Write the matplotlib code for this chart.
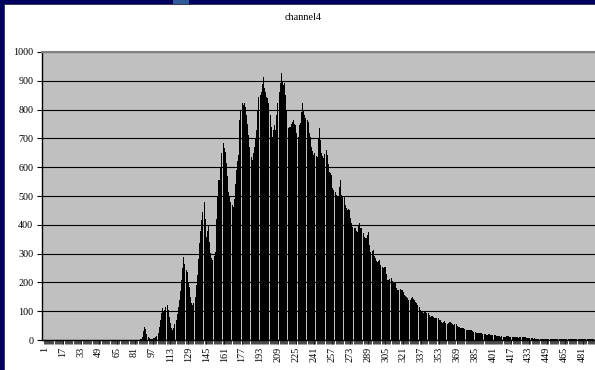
import matplotlib
matplotlib.use("Agg")
import matplotlib.pyplot as plt
from matplotlib.patches import Rectangle
from matplotlib.ticker import FixedLocator

title = "channel4"

# histogram counts for channel 4, one value per bin (bins 1..491)
counts = [
    0, 0, 0, 0, 0, 0, 0, 0, 0, 0, 0, 0, 0, 0, 0, 0,
    0, 0, 0, 0, 0, 0, 0, 0, 0, 0, 0, 0, 0, 0, 0, 0,
    0, 0, 0, 0, 0, 0, 0, 0, 0, 0, 0, 0, 0, 0, 0, 0,
    0, 0, 0, 0, 0, 0, 0, 0, 0, 0, 0, 0, 0, 0, 0, 0,
    0, 0, 0, 0, 0, 0, 0, 0, 0, 0, 0, 0, 0, 0, 0, 0,
    0, 0, 0, 0, 0, 2, 5, 12, 30, 45, 38, 20, 10, 6, 5, 4,
    5, 6, 8, 10, 14, 25, 45, 70, 95, 110, 100, 105, 115, 121, 105, 80,
    60, 40, 35, 42, 55, 70, 90, 115, 139, 170, 210, 250, 289, 265, 243, 235,
    200, 185, 150, 128, 120, 128, 150, 190, 226, 280, 336, 380, 417, 445, 480, 420,
    359, 380, 399, 340, 301, 285, 278, 290, 307, 420, 500, 555, 555, 600, 650, 683,
    665, 654, 613, 570, 515, 500, 480, 470, 463, 490, 540, 590, 620, 642, 764, 800,
    822, 815, 822, 810, 781, 750, 712, 670, 636, 625, 650, 671, 700, 729, 800, 845,
    850, 862, 890, 914, 874, 860, 845, 839, 822, 780, 741, 706, 730, 747, 729, 780,
    822, 860, 891, 926, 900, 885, 891, 850, 799, 735, 740, 741, 750, 758, 764, 750,
    747, 720, 706, 747, 752, 790, 822, 795, 781, 770, 765, 758, 720, 706, 671, 655,
    642, 648, 640, 636, 700, 735, 694, 648, 640, 631, 645, 660, 642, 610, 585, 579,
    573, 527, 520, 515, 503, 500, 498, 530, 556, 503, 500, 498, 470, 457, 451, 455,
    451, 422, 405, 393, 390, 388, 380, 376, 395, 405, 390, 388, 370, 359, 355, 353,
    365, 376, 330, 307, 310, 313, 290, 284, 275, 272, 276, 278, 262, 255, 249, 252,
    255, 230, 210, 208, 212, 214, 205, 203, 200, 203, 180, 174, 172, 176, 174, 172,
    165, 156, 152, 150, 145, 140, 139, 145, 150, 142, 139, 132, 127, 120, 116, 104,
    98, 96, 95, 97, 98, 95, 93, 86, 81, 82, 83, 79, 76, 75, 76, 75,
    70, 69, 64, 60, 63, 67, 60, 56, 60, 64, 62, 60, 55, 52, 54, 56,
    50, 46, 44, 42, 40, 41, 40, 38, 35, 36, 35, 35, 34, 33, 31, 29,
    28, 25, 26, 24, 23, 24, 25, 22, 21, 20, 17, 18, 20, 21, 19, 17,
    18, 19, 16, 14, 15, 14, 13, 12, 13, 12, 11, 12, 14, 15, 13, 12,
    11, 10, 11, 10, 9, 10, 9, 8, 10, 11, 10, 12, 11, 9, 8, 7,
    8, 7, 6, 6, 5, 6, 5, 5, 4, 5, 5, 4, 5, 4, 4, 5,
    4, 3, 4, 3, 3, 4, 3, 2, 3, 4, 3, 3, 2, 3, 4, 3,
    3, 2, 3, 3, 4, 3, 2, 3, 3, 2, 3, 4, 3, 2, 3, 3,
    2, 3, 4, 3, 2, 3, 3, 2, 3, 2, 3,
]
bins = list(range(1, len(counts) + 1))
x_tick_labels = [str(b) for b in bins if (b - 1) % 16 == 0]
y_ticks = list(range(0, 1001, 100))

W, H = 595, 370
fig = plt.figure(figsize=(W / 100, H / 100), dpi=100, facecolor="#00005e")

# white chart area with a lighter tab on the top strip
fig.patches.append(Rectangle((4 / W, 0), 1 - 4 / W, 1 - 4 / H, transform=fig.transFigure,
                             facecolor="white", edgecolor="#303040", linewidth=0.6, zorder=-10))
fig.patches.append(Rectangle((173 / W, 1 - 4 / H), 16 / W, 4 / H, transform=fig.transFigure,
                             facecolor="#2f5c9c", edgecolor="none", zorder=-10))

serif = "Liberation Serif"
ax = fig.add_axes([42.3 / W, 1 - 340 / H, 1 - 42.3 / W, (340 - 52) / H])
ax.set_zorder(5)
ax.set_facecolor("#c0c0c0")

ax.bar(bins, counts, width=0.9, color="black", edgecolor="none", antialiased=False, zorder=3)

ax.set_ylim(0, 1000)
ax.set_xlim(-1.4, len(counts) + 1.1)
ax.yaxis.set_major_locator(FixedLocator(y_ticks))
ax.set_yticklabels([str(v) for v in y_ticks], fontfamily=serif, fontsize=7.3)
ax.grid(axis="y", color="black", linewidth=0.8, zorder=1)
ax.set_axisbelow(True)

label_pos = [int(s) for s in x_tick_labels]
ax.set_xticks(label_pos)
ax.set_xticklabels(x_tick_labels, rotation=90, fontfamily=serif, fontsize=7.3)
ax.xaxis.set_minor_locator(FixedLocator([b + 0.5 for b in [0] + bins]))
ax.tick_params(axis="x", which="major", length=3, width=0.5, color="black", pad=2)
ax.tick_params(axis="x", which="minor", length=3, width=0.5, color="black")
ax.tick_params(axis="y", which="major", length=3.5, width=0.8, color="black", pad=3)

for side in ("left", "bottom"):
    ax.spines[side].set_color("black")
    ax.spines[side].set_linewidth(1.0)
ax.spines["top"].set_color("#808080")
ax.spines["top"].set_linewidth(1.5)
ax.spines["right"].set_visible(False)

fig.text(303 / W, 1 - 18 / H, title, ha="center", va="center", fontfamily=serif, fontsize=7.3)

fig.savefig("out.png", dpi=100, facecolor=fig.get_facecolor())
